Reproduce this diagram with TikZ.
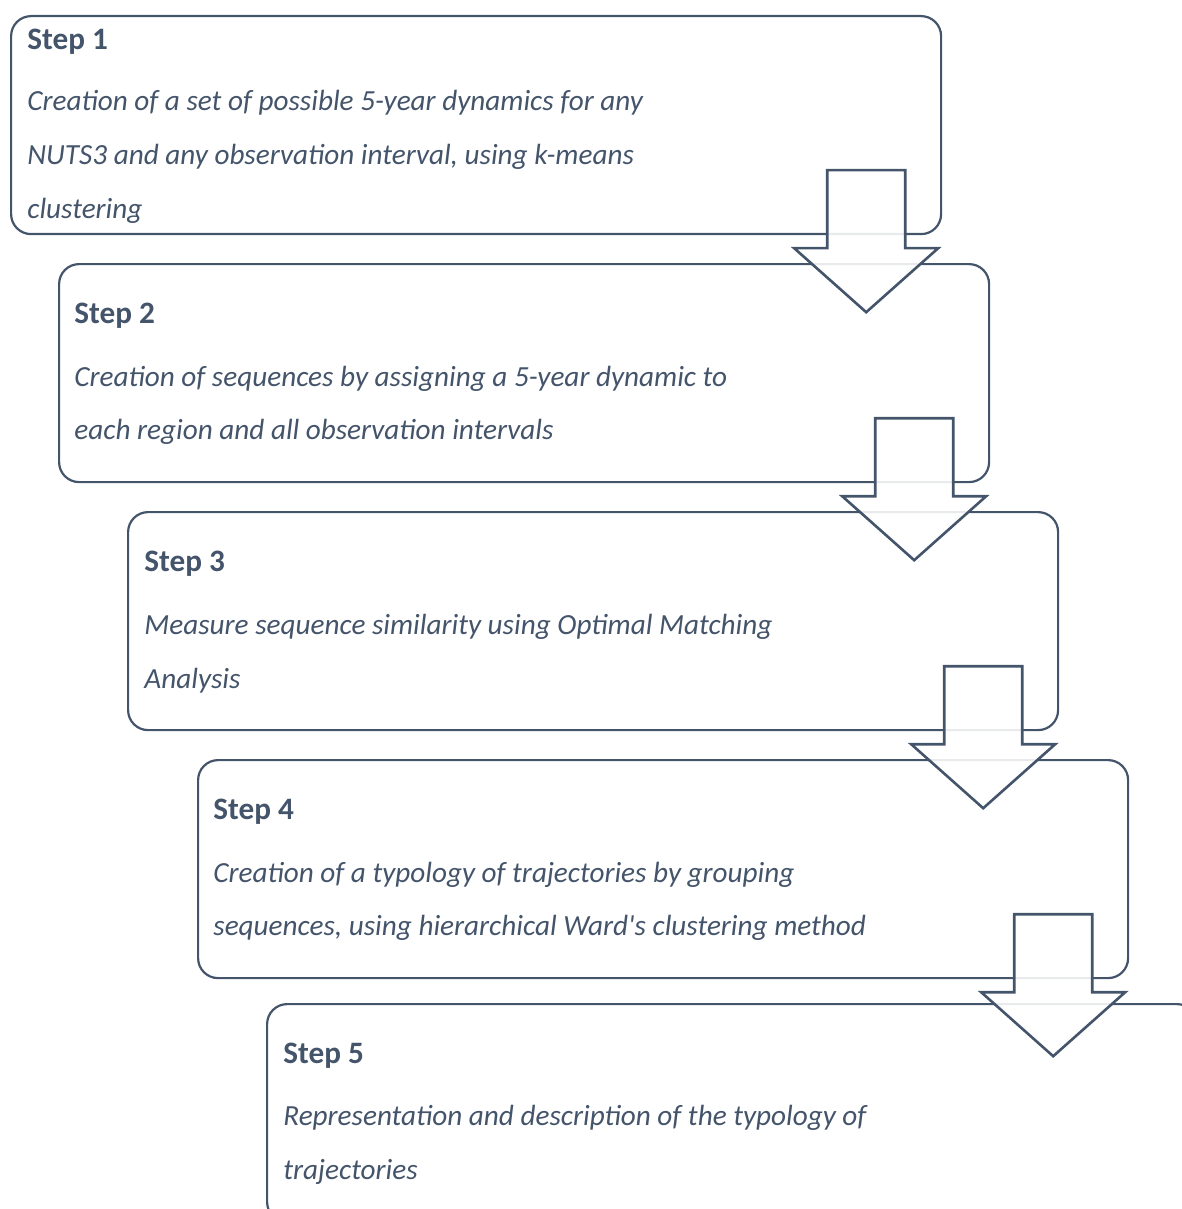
\documentclass[tikz,border=0pt]{standalone}
\usepackage{fontspec}
\setmainfont{Carlito}[Ligatures=TeXOff]
\usetikzlibrary{calc}
\definecolor{slate}{HTML}{44546A}
\tikzset{
  stepbox/.style={draw=slate, line width=1.1pt, rounded corners=10pt, minimum width=465pt, minimum height=109pt, anchor=north west, inner sep=0pt},
  steplabel/.style={anchor=base west, inner sep=0pt, text=slate, font=\fontsize{15.6}{18}\selectfont\bfseries},
  steptext/.style={anchor=base west, inner sep=0pt, text=slate, font=\fontsize{14.6}{17}\selectfont\itshape},
  blockarrow/.style={draw=slate, line width=1.3pt, fill=white, fill opacity=0.88, line join=miter}
}
\begin{document}
\begin{tikzpicture}[x=0.5pt,y=-0.5pt]
\useasboundingbox (0,0) rectangle (1182,1209);
\begin{scope}
\clip (0,0) rectangle (1182,1209);
% boxes
\node[stepbox] (b1) at (10,15) {};
\node[stepbox] (b2) at (58,263) {};
\node[stepbox] (b3) at (127,511) {};
\node[stepbox] (b4) at (197,759) {};
\node[stepbox] (b5) at (266,1003) {};
% texts
\node[steplabel] (s1) at (27,50) {Step 1};
\node[steptext] (t1a) at (27,111) {Creation of a set of possible 5-year dynamics for any};
\node[steptext] (t1b) at (27,165) {NUTS3 and any observation interval, using k-means};
\node[steptext] (t1c) at (27,219) {clustering};
\node[steplabel] (s2) at (74,323) {Step 2};
\node[steptext] (t2a) at (74,386) {Creation of sequences by assigning a 5-year dynamic to};
\node[steptext] (t2b) at (74,439) {each region and all observation intervals};
\node[steplabel] (s3) at (144,571) {Step 3};
\node[steptext] (t3a) at (144,634) {Measure sequence similarity using Optimal Matching};
\node[steptext] (t3b) at (144,688) {Analysis};
\node[steplabel] (s4) at (213,819) {Step 4};
\node[steptext] (t4a) at (213,882) {Creation of a typology of trajectories by grouping};
\node[steptext] (t4b) at (213,935) {sequences, using hierarchical Ward's clustering method};
\node[steplabel] (s5) at (283,1063) {Step 5};
\node[steptext] (t5a) at (283,1125) {Representation and description of the typology of};
\node[steptext] (t5b) at (283,1179) {trajectories};
% arrows
\foreach \a/\b in {b1/b2,b2/b3,b3/b4,b4/b5}{
  \coordinate (c) at ($(\a.south east)+(-76,-65)$);
  \draw[blockarrow] ($(c)+(-39,0)$) -- ($(c)+(39,0)$) -- ($(c)+(39,78)$) -- ($(c)+(72,78)$)
    -- ($(c)+(0,142)$) -- ($(c)+(-72,78)$) -- ($(c)+(-39,78)$) -- cycle;
}
\end{scope}
\end{tikzpicture}
\end{document}
